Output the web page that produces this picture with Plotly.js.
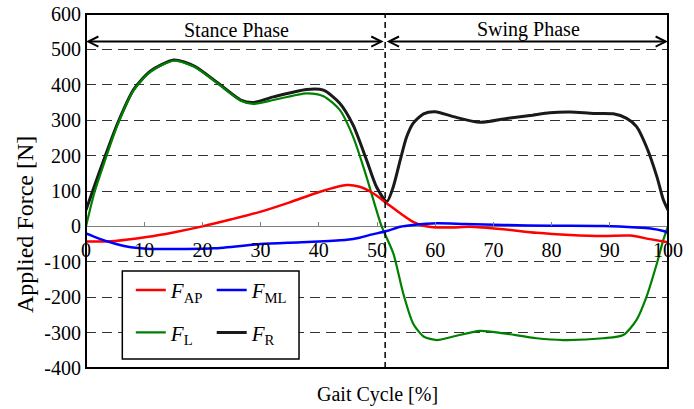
<!DOCTYPE html>
<html><head><meta charset="utf-8">
<script src="https://cdn.plot.ly/plotly-3.0.1.min.js"></script>
<style>html,body{margin:0;padding:0;background:#fff}</style>
</head><body>
<div id="chart" style="width:694px;height:409px"></div>
<script>
// Gait cycle [%] and forces [N]
const xAP = [0,5,10.4,15,20,25,29.9,35,40.2,44.8,47,49.4,51.7,54,56.2,58,60.3,63,66,71.7,77.4,83.2,88.9,93.5,96.9,100];
const fAP = [-43,-41,-30,-17,0,20,41,68,98,117,112,93,65,37,13,2,-3,-3,-1,-8,-18,-24,-27,-26,-36,-45];

const xML = [0,2,4.6,7,10.4,15,21.9,30,35,40,44.8,47,48.8,51.7,54,56.2,60.3,65,71.7,80,88.9,94.6,97,99.2,100];
const fML = [-20,-33,-47,-57,-63,-64,-62,-50,-46,-43,-38,-32,-24,-13,-1,4,9,7,4,2,1,-3,-6,-13,-18];

const xL = [0,1.4,3.1,5.4,8.2,11.1,15.1,18.6,22.6,26.6,28.7,32.2,37.9,40.8,43.6,45.9,48.2,49.9,50.8,52.8,54.5,56.2,58,60.3,63.1,67.7,71.7,77.4,82,88.9,92.3,94.6,96.3,98.1,99.2,100];
const fL = [0,93,178,286,385,437,468,451,404,355,346,357,376,368,329,253,140,46,0,-76,-189,-274,-311,-321,-311,-295,-302,-316,-321,-316,-307,-264,-199,-104,-38,0];

const xR = [0,1.4,3.1,5.4,8.2,11.1,15.1,18.6,22.6,26.6,28.7,32.2,37.9,40.8,43.6,45.9,48.2,49.9,51.7,52.8,54,55.1,56.2,58,60,63.1,67.7,72.3,76.3,79.7,83.2,87.2,90.6,92.9,94.6,96.3,98.1,99.2,100];
const fR = [46,112,190,290,387,439,470,453,406,357,350,366,387,385,348,286,188,112,70,112,188,253,291,318,324,310,294,305,313,321,323,319,318,305,282,225,140,75,46];

const seriesNames = ['<i>F</i><sub>AP</sub>','<i>F</i><sub>ML</sub>','<i>F</i><sub>L</sub>','<i>F</i><sub>R</sub>'];
const xTicks = [0,10,20,30,40,50,60,70,80,90,100];
const yTicks = [-400,-300,-200,-100,0,100,200,300,400,500,600];
const phaseBoundary = 51.4;
const phaseNames = ['Stance Phase','Swing Phase'];

const FONT = '"Liberation Serif", "Times New Roman", serif';

const traces = [
  {x:xR, y:fR, name:seriesNames[3], legend:'legend2', legendgroup:'r', legendrank:2,
   mode:'lines', line:{color:'#1a1a1a', width:3, shape:'spline', smoothing:0.7}},
  {x:xL, y:fL, name:seriesNames[2], legend:'legend', legendgroup:'l', legendrank:2,
   mode:'lines', line:{color:'#008000', width:2.2, shape:'spline', smoothing:0.7}},
  {x:xAP, y:fAP, name:seriesNames[0], legend:'legend', legendgroup:'ap', legendrank:1,
   mode:'lines', line:{color:'#ff0000', width:2.5, shape:'spline', smoothing:0.7}},
  {x:xML, y:fML, name:seriesNames[1], legend:'legend2', legendgroup:'ml', legendrank:1,
   mode:'lines', line:{color:'#0000ff', width:2.5, shape:'spline', smoothing:0.7}}
];

const legendCommon = {
  orientation:'v', bgcolor:'rgba(0,0,0,0)', borderwidth:0,
  font:{family:FONT, size:21, color:'#000'}, itemwidth:30,
  tracegroupgap:12, xanchor:'left', yanchor:'top', traceorder:'grouped'
};

const layout = {
  width:694, height:409,
  margin:{l:86, r:26, t:14, b:41},
  paper_bgcolor:'#fff', plot_bgcolor:'#fff',
  font:{family:FONT, size:20, color:'#000'},
  showlegend:true,
  legend:Object.assign({x:0.077, y:0.277}, legendCommon),
  legend2:Object.assign({x:0.216, y:0.277}, legendCommon),
  xaxis:{
    range:[0,100], tickvals:xTicks, ticktext:xTicks.map(String),
    anchor:'free', position:0.4, showline:false, showgrid:false, zeroline:false,
    ticks:'inside', ticklen:4, tickwidth:1, tickcolor:'#808080',
    ticklabelstandoff:10, tickfont:{family:FONT, size:20, color:'#000'}
  },
  yaxis:{
    range:[-400,600], tickvals:yTicks, ticktext:yTicks.map(String),
    showline:false, ticks:'', ticklabelstandoff:4,
    showgrid:true, gridcolor:'#333', gridwidth:1, griddash:'10px,6px',
    zeroline:true, zerolinecolor:'#808080', zerolinewidth:1.5,
    tickfont:{family:FONT, size:20, color:'#000'}
  },
  shapes:[
    {type:'line', xref:'x', yref:'y', x0:phaseBoundary, x1:phaseBoundary, y0:-400, y1:600,
     line:{color:'#000', width:1.5, dash:'6px,4px'}},
    {type:'rect', xref:'paper', yref:'paper', x0:0.0624, x1:0.366, y0:0.0254, y1:0.274,
     fillcolor:'#fff', line:{color:'#000', width:1.5}, layer:'above'},
    {type:'rect', xref:'paper', yref:'paper', x0:0, x1:1, y0:0, y1:1,
     line:{color:'#000', width:2}, layer:'above'}
  ],
  annotations:[
    {xref:'x', yref:'y', axref:'x', ayref:'y', x:0, y:522, ax:phaseBoundary, ay:522, text:'',
     showarrow:true, arrowside:'end+start', arrowhead:5, startarrowhead:5,
     arrowwidth:2, arrowsize:1, startarrowsize:1, arrowcolor:'#000', standoff:0, startstandoff:0},
    {xref:'x', yref:'y', axref:'x', ayref:'y', x:100, y:522, ax:phaseBoundary, ay:522, text:'',
     showarrow:true, arrowside:'end+start', arrowhead:5, startarrowhead:5,
     arrowwidth:2, arrowsize:1, startarrowsize:1, arrowcolor:'#000', standoff:0, startstandoff:0},
    {xref:'x', yref:'y', x:25.9, y:556, text:phaseNames[0], showarrow:false,
     font:{family:FONT, size:20, color:'#000'}},
    {xref:'x', yref:'y', x:76, y:556, text:phaseNames[1], showarrow:false,
     font:{family:FONT, size:20, color:'#000'}},
    {xref:'paper', yref:'paper', x:0.5, y:-0.075, xanchor:'center', yanchor:'middle', text:'Gait Cycle [%]', showarrow:false,
     font:{family:FONT, size:20, color:'#000'}},
    {xref:'paper', yref:'paper', x:-0.1048, y:0.404, xanchor:'center', yanchor:'middle', textangle:-90, text:'Applied Force [N]', showarrow:false,
     font:{family:FONT, size:24, color:'#000'}}
  ]
};

Plotly.newPlot('chart', traces, layout, {displayModeBar:false, staticPlot:true});
</script>
</body></html>
